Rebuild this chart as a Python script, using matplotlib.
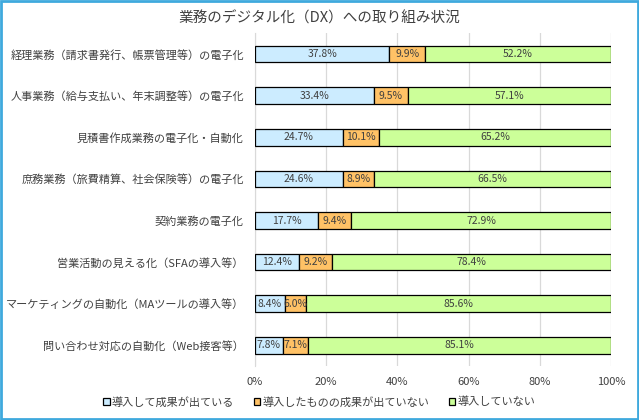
import numpy as np
import matplotlib
matplotlib.use("Agg")
import matplotlib.pyplot as plt
from matplotlib.patches import Rectangle

plt.rcParams['font.family'] = ['Noto Sans CJK JP', 'DejaVu Sans']

# ------------------ Data ------------------

categories = [
    "経理業務（請求書発行、帳票管理等）の電子化",
    "人事業務（給与支払い、年末調整等）の電子化",
    "見積書作成業務の電子化・自動化",
    "庶務業務（旅費精算、社会保険等）の電子化",
    "契約業務の電子化",
    "営業活動の見える化（SFAの導入等）",
    "マーケティングの自動化（MAツールの導入等）",
    "問い合わせ対応の自動化（Web接客等）",
]
success = [37.8, 33.4, 24.7, 24.6, 17.7, 12.4, 8.4, 7.8]
no_result = [9.9, 9.5, 10.1, 8.9, 9.4, 9.2, 6.0, 7.1]
not_adopted = [52.2, 57.1, 65.2, 66.5, 72.9, 78.4, 85.6, 85.1]
series_names = ["導入して成果が出ている", "導入したものの成果が出ていない", "導入していない"]
x_ticks = [0, 20, 40, 60, 80, 100]

colors = ["#CCECFF", "#FFC266", "#CCFF99"]
text_color = "#404040"

# ------------------ Plot ------------------

fig = plt.figure(figsize=(6.39, 4.2), dpi=100)
ax = fig.add_axes([0.399, 0.128, 0.557, 0.793])

y = np.arange(len(categories))
left = np.zeros(len(categories))
for vals, col, name in zip([success, no_result, not_adopted], colors, series_names):
    bars = ax.barh(y, vals, left=left, height=0.4, color=col, edgecolor="black",
                   linewidth=0.9, label=name, zorder=3)
    for b, v in zip(bars, vals):
        ax.text(b.get_x() + b.get_width() / 2, b.get_y() + b.get_height() / 2,
                "{:.1f}%".format(v), ha="center", va="center", fontsize=7.5,
                color=text_color, zorder=4)
    left += np.array(vals)

ax.set_ylim(len(categories) - 0.5, -0.5)
ax.set_xlim(0, 100)
ax.set_yticks(y)
ax.set_yticklabels(categories, fontsize=8, color=text_color)
ax.set_xticks(x_ticks)
ax.set_xticklabels(["{}%".format(t) for t in x_ticks], fontsize=8, color=text_color)
ax.tick_params(length=0, pad=8)
ax.grid(axis="x", color="#D9D9D9", linewidth=0.9, zorder=0)
for s in ["top", "right", "bottom"]:
    ax.spines[s].set_visible(False)
ax.spines["left"].set_color("#D9D9D9")

fig.text(0.5, 0.955, "業務のデジタル化（DX）への取り組み状況", ha="center", va="center",
         fontsize=10.5, color=text_color)

ax.legend(loc="center", bbox_to_anchor=(0.5, 0.043), bbox_transform=fig.transFigure,
          ncol=3, frameon=False, fontsize=8, handlelength=0.55, handleheight=0.55,
          handletextpad=0.2, columnspacing=1.8, labelcolor=text_color)

# figure border
fig.patches.append(Rectangle((0.002, 0.003), 0.996, 0.994, transform=fig.transFigure,
                             fill=False, edgecolor="#3FA9DD", linewidth=2))

fig.savefig("out.png", dpi=100)
